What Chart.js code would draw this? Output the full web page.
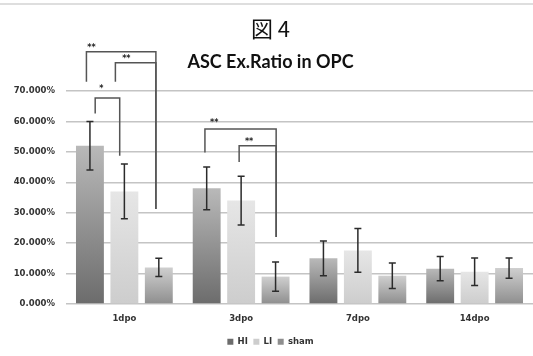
<!DOCTYPE html>
<html>
<head>
<meta charset="utf-8">
<script src="https://cdn.jsdelivr.net/npm/chart.js@4.4.1/dist/chart.umd.min.js"></script>
<style>
    body { margin: 0; background: #fff; }
    #wrap { position: relative; width: 533px; height: 356px; }
    #topline { position: absolute; left: 0; top: 3px; width: 533px; height: 2px; background: #dedede; }
</style>
</head>
<body>
<div id="wrap">
    <div id="topline"></div>
    <canvas id="ascChart" width="533" height="356"></canvas>
</div>
<script>
const days = ['1dpo', '3dpo', '7dpo', '14dpo']
const groups = ['HI', 'LI', 'sham']

// values in percent
const hiValues = [52, 38, 15, 11.6]
const liValues = [37, 34, 17.6, 10.6]
const shamValues = [12, 9, 9.3, 11.8]

const hiErr = [8, 7, 5.7, 4]
const liErr = [9, 8, 7.2, 4.5]
const shamErr = [3, 4.8, 4.2, 3.3]

const yTicks = [0, 10, 20, 30, 40, 50, 60, 70]

// significance brackets (category index, offsets in category widths, heights in percent)
const bracketCat = [0, 0, 0, 1, 1]
const bracketLeftX = [-0.25, -0.077, -0.325, -0.31, -0.017]
const bracketRightX = [-0.04, 0.27, 0.27, 0.30, 0.30]
const bracketLeftFrom = [62.6, 73, 73, 49.8, 46.7]
const bracketTop = [67.7, 79.3, 82.9, 57.5, 52]
const bracketRightTo = [48.7, 31.2, 31.2, 22, 22]
const bracketLabel = ['*', '**', '**', '**', '**']
const labelX = [-0.197, 0.017, -0.282, -0.231, 0.068]
const labelY = [71.4, 81.3, 84.9, 60.2, 53.9]

function barFill(top, bottom) {
    return function (ctx) {
        const chart = ctx.chart;
        if (!chart.chartArea || ctx.type !== 'data') return bottom;
        const ys = chart.scales.y;
        const g = chart.ctx.createLinearGradient(0, ys.getPixelForValue(ctx.raw), 0, ys.getPixelForValue(0));
        g.addColorStop(0, top);
        g.addColorStop(1, bottom);
        return g;
    };
}

const errorBars = {
    id: 'errorBars',
    afterDatasetsDraw(chart) {
        const ctx = chart.ctx;
        const ys = chart.scales.y;
        const errs = [hiErr, liErr, shamErr];
        ctx.save();
        ctx.strokeStyle = '#2b2b2b';
        ctx.lineWidth = 1.5;
        chart.data.datasets.forEach((ds, d) => {
            const meta = chart.getDatasetMeta(d);
            meta.data.forEach((bar, i) => {
                const v = ds.data[i], e = errs[d][i];
                const y1 = ys.getPixelForValue(v + e), y2 = ys.getPixelForValue(v - e);
                ctx.beginPath();
                ctx.moveTo(bar.x, y1); ctx.lineTo(bar.x, y2);
                ctx.moveTo(bar.x - 3.5, y1); ctx.lineTo(bar.x + 3.5, y1);
                ctx.moveTo(bar.x - 3.5, y2); ctx.lineTo(bar.x + 3.5, y2);
                ctx.stroke();
            });
        });
        ctx.restore();
    }
};

const brackets = {
    id: 'brackets',
    afterDraw(chart) {
        const ctx = chart.ctx;
        const xs = chart.scales.x, ys = chart.scales.y;
        const catW = xs.width / days.length;
        ctx.save();
        ctx.strokeStyle = '#555';
        ctx.lineWidth = 1.5;
        for (let b = 0; b < bracketCat.length; b++) {
            const c = xs.getPixelForValue(bracketCat[b]);
            const x1 = c + bracketLeftX[b] * catW, x2 = c + bracketRightX[b] * catW;
            ctx.beginPath();
            ctx.moveTo(x1, ys.getPixelForValue(bracketLeftFrom[b]));
            ctx.lineTo(x1, ys.getPixelForValue(bracketTop[b]));
            ctx.lineTo(x2, ys.getPixelForValue(bracketTop[b]));
            ctx.lineTo(x2, ys.getPixelForValue(bracketRightTo[b]));
            ctx.stroke();
            ctx.fillStyle = '#222';
            ctx.font = 'bold 8px "DejaVu Sans"';
            ctx.textAlign = 'center';
            ctx.textBaseline = 'middle';
            ctx.fillText(bracketLabel[b], c + labelX[b] * catW, ys.getPixelForValue(labelY[b]) + 2);
        }
        ctx.restore();
    }
};

new Chart(document.getElementById('ascChart'), {
    type: 'bar',
    data: {
        labels: days,
        datasets: [
            { label: groups[0], data: hiValues, backgroundColor: barFill('#b9b9b9', '#6c6c6c') },
            { label: groups[1], data: liValues, backgroundColor: barFill('#e6e6e6', '#cdcdcd') },
            { label: groups[2], data: shamValues, backgroundColor: barFill('#cfcfcf', '#8e8e8e') }
        ]
    },
    options: {
        responsive: false,
        animation: false,
        categoryPercentage: 0.885,
        barPercentage: 0.81,
        layout: { padding: { left: 8, right: 0, top: 0, bottom: 0 } },
        plugins: {
            title: {
                display: true,
                text: '図 4',
                color: '#111',
                font: { family: '"Noto Sans CJK JP"', size: 22, weight: 'normal' },
                padding: { top: 15, bottom: 6 }
            },
            subtitle: {
                display: true,
                text: 'ASC Ex.Ratio in OPC',
                color: '#111',
                font: { family: 'Lato', size: 18, weight: 'bold' },
                padding: { top: 4, bottom: 18 }
            },
            legend: {
                position: 'bottom',
                labels: {
                    boxWidth: 6, boxHeight: 6, padding: 5.5,
                    color: '#333',
                    font: { family: '"DejaVu Sans"', size: 8.5, weight: 'bold' }
                }
            },
            tooltip: { enabled: false }
        },
        scales: {
            x: {
                grid: { display: false, drawTicks: false },
                border: { display: false },
                ticks: { color: '#333', padding: 10, font: { family: '"DejaVu Sans"', size: 8.5, weight: 'bold' } },
                afterFit: scale => { scale.height = 28; }
            },
            y: {
                min: 0, max: 70,
                afterBuildTicks: scale => { scale.ticks = yTicks.map(v => ({ value: v })); },
                grid: { color: '#c4c4c4', lineWidth: 1.5, drawTicks: false },
                border: { display: false },
                ticks: {
                    color: '#333', padding: 11,
                    font: { family: '"DejaVu Sans"', size: 8.5, weight: 'bold' },
                    callback: v => v.toFixed(3) + '%'
                },
                afterFit: scale => { scale.width = 58; }
            }
        }
    },
    plugins: [errorBars, brackets]
});
</script>
</body>
</html>
